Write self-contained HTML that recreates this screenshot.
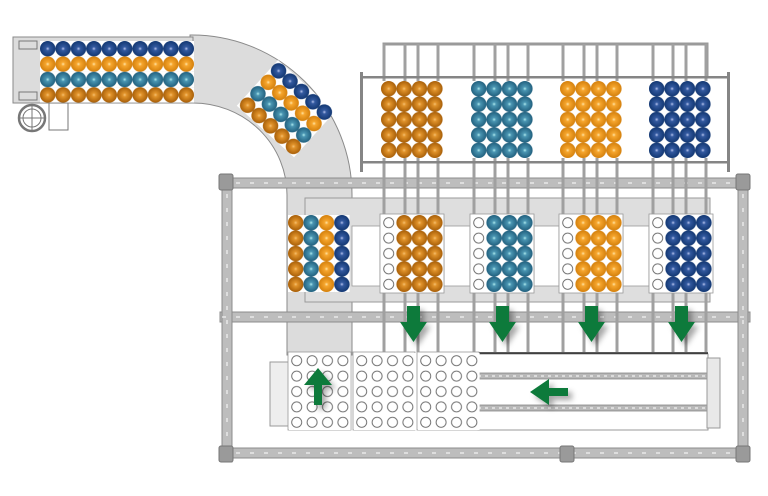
<!DOCTYPE html>
<html><head><meta charset="utf-8"><style>html,body{margin:0;padding:0;background:#fff}svg{display:block}</style></head>
<body>
<svg width="768" height="496" viewBox="0 0 768 496" xmlns="http://www.w3.org/2000/svg">
<defs>
<radialGradient id="gDO" cx="50%" cy="50%" r="50%"><stop offset="0" stop-color="#f5c070"/><stop offset="0.25" stop-color="#e0922a"/><stop offset="1" stop-color="#a85f08"/></radialGradient>
<radialGradient id="gLO" cx="50%" cy="50%" r="50%"><stop offset="0" stop-color="#ffe6a8"/><stop offset="0.25" stop-color="#f6a62e"/><stop offset="1" stop-color="#d4800c"/></radialGradient>
<radialGradient id="gT" cx="50%" cy="50%" r="50%"><stop offset="0" stop-color="#b0ecee"/><stop offset="0.25" stop-color="#4a95b2"/><stop offset="1" stop-color="#21607e"/></radialGradient>
<radialGradient id="gB" cx="50%" cy="50%" r="50%"><stop offset="0" stop-color="#b8c4ee"/><stop offset="0.25" stop-color="#33599f"/><stop offset="1" stop-color="#123772"/></radialGradient>
<pattern id="pDO" width="15.4" height="15.4" patternUnits="userSpaceOnUse"><rect width="15.4" height="15.4" fill="#fff"/><circle cx="7.7" cy="7.7" r="7.7" fill="url(#gDO)"/></pattern>
<pattern id="pLO" width="15.4" height="15.4" patternUnits="userSpaceOnUse"><rect width="15.4" height="15.4" fill="#fff"/><circle cx="7.7" cy="7.7" r="7.7" fill="url(#gLO)"/></pattern>
<pattern id="pT" width="15.4" height="15.4" patternUnits="userSpaceOnUse"><rect width="15.4" height="15.4" fill="#fff"/><circle cx="7.7" cy="7.7" r="7.7" fill="url(#gT)"/></pattern>
<pattern id="pB" width="15.4" height="15.4" patternUnits="userSpaceOnUse"><rect width="15.4" height="15.4" fill="#fff"/><circle cx="7.7" cy="7.7" r="7.7" fill="url(#gB)"/></pattern>
<pattern id="pE" width="15.4" height="15.4" patternUnits="userSpaceOnUse"><rect width="15.4" height="15.4" fill="#fff"/><circle cx="7.7" cy="7.7" r="5" fill="none" stroke="#666" stroke-width="0.9"/></pattern>
<filter id="sh" x="-50%" y="-50%" width="200%" height="200%"><feDropShadow dx="4" dy="4" stdDeviation="3" flood-color="#000" flood-opacity="0.35"/></filter>
</defs>

<path d="M190 35 A160 160 0 0 1 352 195 L352 355 L287 355 L287 195 A94 92 0 0 0 193 103 Z" fill="#dcdcdc" stroke="#8a8a8a" stroke-width="1"/>
<rect x="13" y="37" width="180" height="66" fill="#dcdcdc" stroke="#8a8a8a"/>
<g fill="none" stroke="#777" stroke-width="1">
<rect x="19" y="41" width="18" height="8"/><rect x="19" y="92" width="18" height="8"/>
<circle cx="32" cy="118" r="13" stroke-width="2.5"/><circle cx="32" cy="118" r="9"/>
<line x1="20" y1="118" x2="44" y2="118"/><line x1="32" y1="106" x2="32" y2="130"/>
<rect x="49" y="103" width="19" height="27"/>
</g>
<g transform="translate(40,41)">
<rect width="154" height="15.4" fill="url(#pB)"/>
<g transform="translate(0,15.4)"><rect width="154" height="15.4" fill="url(#pLO)"/></g>
<g transform="translate(0,30.8)"><rect width="154" height="15.4" fill="url(#pT)"/></g>
<g transform="translate(0,46.2)"><rect width="154" height="15.4" fill="url(#pDO)"/></g>
</g>
<g transform="translate(278,60) rotate(42)">
<rect width="77" height="15.4" fill="url(#pB)"/>
<g transform="translate(0,15.4)"><rect width="77" height="15.4" fill="url(#pLO)"/></g>
<g transform="translate(0,30.8)"><rect width="77" height="15.4" fill="url(#pT)"/></g>
<g transform="translate(0,46.2)"><rect width="77" height="15.4" fill="url(#pDO)"/></g>
</g>

<rect x="305" y="198" width="405" height="104" fill="#dedede" stroke="#9a9a9a"/>
<g fill="#fff" stroke="#9a9a9a" stroke-width="0.8">
<rect x="352" y="226" width="28" height="60"/><rect x="444" y="226" width="26" height="60"/>
<rect x="534" y="226" width="25" height="60"/><rect x="623" y="226" width="26" height="60"/>
</g>

<g fill="#bdbdbd" stroke="#8c8c8c" stroke-width="1">
<rect x="220" y="178" width="530" height="10"/>
<rect x="220" y="312" width="530" height="10"/>
<rect x="220" y="448" width="530" height="10"/>
<rect x="222" y="175" width="10" height="287"/>
<rect x="738" y="175" width="10" height="287"/>
</g>
<g stroke="#fff" stroke-width="1" stroke-dasharray="4 10">
<line x1="222" y1="183" x2="748" y2="183"/><line x1="222" y1="317" x2="748" y2="317"/><line x1="222" y1="453" x2="748" y2="453"/>
<line x1="227" y1="180" x2="227" y2="460"/><line x1="743" y1="180" x2="743" y2="460"/>
</g>
<g fill="#9a9a9a" stroke="#777">
<rect x="219" y="174" width="14" height="16" rx="2"/><rect x="736" y="174" width="14" height="16" rx="2"/>
<rect x="219" y="446" width="14" height="16" rx="2"/><rect x="736" y="446" width="14" height="16" rx="2"/>
<rect x="560" y="446" width="14" height="16" rx="2"/>
</g>

<g fill="none" stroke="#9a9a9a" stroke-width="3">
<path d="M384 76 V44 H707 V76"/>
</g>
<g stroke="#a0a0a0" stroke-width="3">
<line x1="384" y1="44" x2="384" y2="352"/><line x1="405" y1="44" x2="405" y2="352"/><line x1="418" y1="44" x2="418" y2="352"/><line x1="438" y1="44" x2="438" y2="352"/>
<line x1="474" y1="44" x2="474" y2="352"/><line x1="495" y1="44" x2="495" y2="352"/><line x1="508" y1="44" x2="508" y2="352"/><line x1="528" y1="44" x2="528" y2="352"/>
<line x1="563" y1="44" x2="563" y2="352"/><line x1="584" y1="44" x2="584" y2="352"/><line x1="597" y1="44" x2="597" y2="352"/><line x1="617" y1="44" x2="617" y2="352"/>
<line x1="653" y1="44" x2="653" y2="352"/><line x1="673" y1="44" x2="673" y2="352"/><line x1="686" y1="44" x2="686" y2="352"/><line x1="706" y1="44" x2="706" y2="352"/>
</g>
<g fill="#858585">
<rect x="360" y="76" width="370" height="2.5"/><rect x="360" y="161" width="370" height="2.5"/>
<rect x="360" y="72" width="3" height="100"/><rect x="727" y="72" width="3" height="100"/>
</g>
<g transform="translate(381,81)"><rect width="61.6" height="77" fill="url(#pDO)"/></g>
<g transform="translate(471,81)"><rect width="61.6" height="77" fill="url(#pT)"/></g>
<g transform="translate(560,81)"><rect width="61.6" height="77" fill="url(#pLO)"/></g>
<g transform="translate(649,81)"><rect width="61.6" height="77" fill="url(#pB)"/></g>

<g transform="translate(288,215)">
<rect width="15.4" height="77" fill="url(#pDO)"/>
<g transform="translate(15.4,0)"><rect width="15.4" height="77" fill="url(#pT)"/></g>
<g transform="translate(30.8,0)"><rect width="15.4" height="77" fill="url(#pLO)"/></g>
<g transform="translate(46.2,0)"><rect width="15.4" height="77" fill="url(#pB)"/></g>
</g>
<g stroke="#999" stroke-width="0.8">
<rect x="380" y="214" width="64" height="79" fill="#fff"/>
<rect x="470" y="214" width="64" height="79" fill="#fff"/>
<rect x="559" y="214" width="64" height="79" fill="#fff"/>
<rect x="649" y="214" width="64" height="79" fill="#fff"/>
</g>
<g transform="translate(381,215)"><rect width="15.4" height="77" fill="url(#pE)"/><g transform="translate(15.4,0)"><rect width="46.2" height="77" fill="url(#pDO)"/></g></g>
<g transform="translate(471,215)"><rect width="15.4" height="77" fill="url(#pE)"/><g transform="translate(15.4,0)"><rect width="46.2" height="77" fill="url(#pT)"/></g></g>
<g transform="translate(560,215)"><rect width="15.4" height="77" fill="url(#pE)"/><g transform="translate(15.4,0)"><rect width="46.2" height="77" fill="url(#pLO)"/></g></g>
<g transform="translate(650,215)"><rect width="15.4" height="77" fill="url(#pE)"/><g transform="translate(15.4,0)"><rect width="46.2" height="77" fill="url(#pB)"/></g></g>

<rect x="270" y="362" width="20" height="64" fill="#eee" stroke="#999"/>
<rect x="478" y="354" width="230" height="76" fill="#fff" stroke="#999"/>
<line x1="478" y1="353" x2="708" y2="353" stroke="#222" stroke-width="1.5"/>
<rect x="478" y="373" width="230" height="6" fill="#b8b8b8" stroke="#777" stroke-width="0.7"/>
<rect x="478" y="405" width="230" height="6" fill="#b8b8b8" stroke="#777" stroke-width="0.7"/>
<g stroke="#fff" stroke-width="1" stroke-dasharray="3 4"><line x1="478" y1="376" x2="708" y2="376"/><line x1="478" y1="408" x2="708" y2="408"/></g>
<rect x="707" y="358" width="13" height="70" fill="#e8e8e8" stroke="#999"/>
<g stroke="#999" stroke-width="0.8">
<rect x="288" y="352" width="63" height="78" fill="#fff"/>
<rect x="353" y="352" width="62" height="78" fill="#fff"/>
<rect x="417" y="352" width="62" height="78" fill="#fff"/>
</g>
<g transform="translate(289,353)"><rect width="61.6" height="77" fill="url(#pE)"/></g>
<g transform="translate(354,353)"><rect width="61.6" height="77" fill="url(#pE)"/></g>
<g transform="translate(418,353)"><rect width="61.6" height="77" fill="url(#pE)"/></g>

<g fill="#0f7a3a" filter="url(#sh)">
<path d="M407 306 H420 V322 H427 L413.5 342 L400 322 H407 Z"/>
<path d="M496 306 H509 V322 H516 L502.5 342 L489 322 H496 Z"/>
<path d="M585 306 H598 V322 H605 L591.5 342 L578 322 H585 Z"/>
<path d="M675 306 H688 V322 H695 L681.5 342 L668 322 H675 Z"/>
<path d="M314 405 V385 H304 L318 368 L332 385 H322 V405 Z"/>
<path d="M568 388 V396 H549 V405 L530 392 L549 379 V388 Z"/>
</g>
</svg>
</body></html>
